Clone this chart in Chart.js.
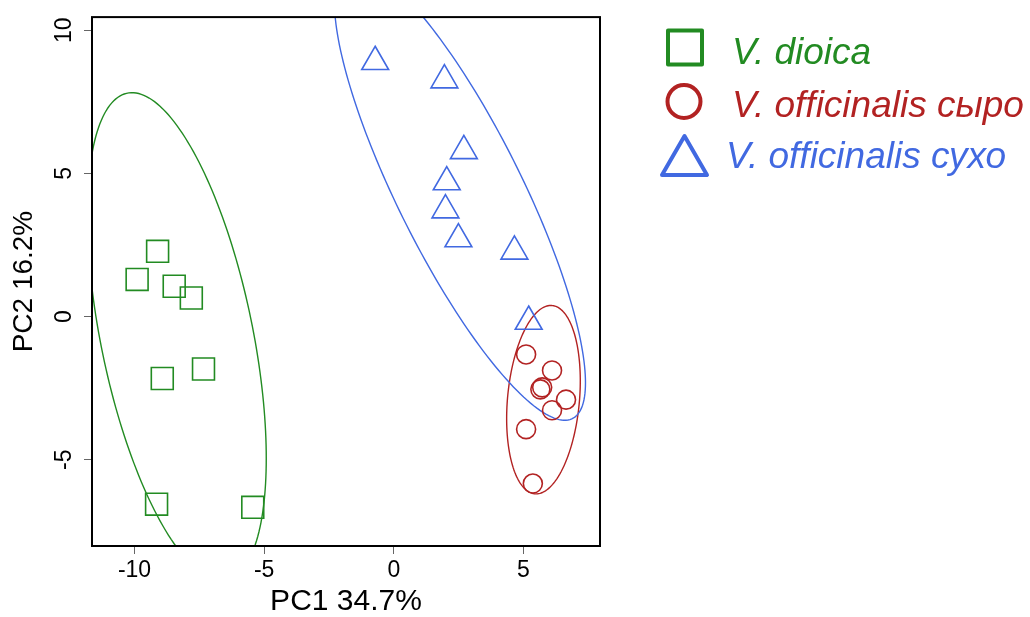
<!DOCTYPE html>
<html>
<head>
<meta charset="utf-8">
<script src="https://cdn.jsdelivr.net/npm/chart.js@4/dist/chart.umd.min.js"></script>
<style>
    html, body { margin: 0; padding: 0; background: #fff; }
    #grafico { display: block; }
</style>
</head>
<body>
<canvas id="grafico" width="1030" height="617"></canvas>
<script>
// Datos PCA
const dioicaX = [-9.11, -9.90, -8.47, -7.81, -8.93, -7.34, -9.15, -5.44];
const dioicaY = [2.28, 1.30, 1.06, 0.65, -2.16, -1.83, -6.55, -6.66];

const syroX = [5.10, 6.10, 5.65, 5.72, 6.64, 6.10, 5.10, 5.36];
const syroY = [-1.32, -1.88, -2.54, -2.47, -2.90, -3.27, -3.93, -5.83];

const sukhoX = [-0.72, 1.95, 2.70, 2.04, 1.99, 2.49, 4.65, 5.20];
const sukhoY = [8.90, 8.26, 5.79, 4.70, 3.72, 2.71, 2.28, -0.17];

const grupos = ["V. dioica", "V. officinalis сыро", "V. officinalis сухо"];

// Elipses de cada grupo: centro, semiancho en X, semialto en Y, correlación
const elipseCX = [-8.37, 5.77, 2.55];
const elipseCY = [-0.69, -2.90, 4.33];
const elipseW = [3.45, 1.42, 4.84];
const elipseH = [8.51, 3.29, 7.95];
const elipseRho = [-0.5, 0.2, -0.835];

const xTicks = [-10, -5, 0, 5];
const yTicks = [-5, 0, 5, 10];

const colores = ["#228B22", "#B22222", "#4169E1"];
const fuente = "'Liberation Sans', Arial, sans-serif";

function puntos(xs, ys) {
    return xs.map((x, i) => ({ x: x, y: ys[i] }));
}

// Dibuja las elipses usando las escalas del gráfico
const pluginElipses = {
    id: "elipses",
    beforeDatasetsDraw(chart) {
        const ctx = chart.ctx;
        const area = chart.chartArea;
        const sx = chart.scales.x;
        const sy = chart.scales.y;
        ctx.save();
        ctx.beginPath();
        ctx.rect(area.left, area.top, area.right - area.left, area.bottom - area.top);
        ctx.clip();
        for (let i = 0; i < elipseCX.length; i++) {
            const r = elipseRho[i];
            const q = Math.sqrt(1 - r * r);
            ctx.beginPath();
            for (let k = 0; k <= 200; k++) {
                const t = (k / 200) * Math.PI * 2;
                const x = elipseCX[i] + elipseW[i] * Math.cos(t);
                const y = elipseCY[i] + elipseH[i] * (r * Math.cos(t) + q * Math.sin(t));
                const px = sx.getPixelForValue(x);
                const py = sy.getPixelForValue(y);
                if (k === 0) ctx.moveTo(px, py); else ctx.lineTo(px, py);
            }
            ctx.strokeStyle = colores[i];
            ctx.lineWidth = 1.4;
            ctx.stroke();
        }
        ctx.restore();
    },
    afterDatasetsDraw(chart) {
        // marco negro alrededor del área
        const ctx = chart.ctx;
        const a = chart.chartArea;
        ctx.save();
        ctx.strokeStyle = "#000";
        ctx.lineWidth = 2;
        ctx.strokeRect(a.left, a.top, a.right - a.left, a.bottom - a.top);
        ctx.restore();
    },
    afterDraw(chart) {
        // leyenda a la derecha
        const ctx = chart.ctx;
        ctx.save();
        ctx.lineWidth = 4;
        ctx.lineJoin = "round";

        ctx.strokeStyle = colores[0];
        ctx.strokeRect(668, 30.5, 34, 34);

        ctx.strokeStyle = colores[1];
        ctx.beginPath();
        ctx.arc(684, 101.5, 16.5, 0, Math.PI * 2);
        ctx.stroke();

        ctx.strokeStyle = colores[2];
        ctx.beginPath();
        ctx.moveTo(684.5, 136);
        ctx.lineTo(707, 175);
        ctx.lineTo(662, 175);
        ctx.closePath();
        ctx.stroke();

        ctx.font = "italic 37px " + fuente;
        ctx.textBaseline = "alphabetic";
        ctx.textAlign = "left";
        const posX = [732, 732, 726];
        const posY = [64, 116.5, 168];
        grupos.forEach((g, i) => {
            ctx.fillStyle = colores[i];
            ctx.fillText(g, posX[i], posY[i]);
        });
        ctx.restore();
    }
};

const ctx = document.getElementById("grafico").getContext("2d");

let chart = new Chart(ctx, {
    type: "scatter",
    data: {
        datasets: [
            {
                label: grupos[0],
                data: puntos(dioicaX, dioicaY),
                pointStyle: "rect",
                pointRadius: 15.5,
                borderColor: colores[0],
                backgroundColor: "rgba(0,0,0,0)",
                borderWidth: 1.6
            },
            {
                label: grupos[1],
                data: puntos(syroX, syroY),
                pointStyle: "circle",
                pointRadius: 9.5,
                borderColor: colores[1],
                backgroundColor: "rgba(0,0,0,0)",
                borderWidth: 1.6
            },
            {
                label: grupos[2],
                data: puntos(sukhoX, sukhoY),
                pointStyle: "triangle",
                pointRadius: 15.5,
                borderColor: colores[2],
                backgroundColor: "rgba(0,0,0,0)",
                borderWidth: 1.6
            }
        ]
    },
    options: {
        responsive: false,
        animation: false,
        events: [],
        devicePixelRatio: 1,
        layout: {
            padding: { left: 0, top: 16, right: 430, bottom: 0 }
        },
        plugins: {
            legend: { display: false },
            tooltip: { enabled: false }
        },
        scales: {
            x: {
                type: "linear",
                min: -11.64,
                max: 7.95,
                afterBuildTicks: s => { s.ticks = xTicks.map(v => ({ value: v })); },
                afterFit: s => { s.height = 71; s.paddingLeft = 0; s.paddingRight = 0; },
                border: { display: false },
                grid: { drawOnChartArea: false, drawTicks: true, tickLength: 8, color: "#666" },
                ticks: {
                    color: "#000",
                    padding: 3,
                    maxRotation: 0,
                    font: { family: fuente, size: 23 }
                },
                title: {
                    display: true,
                    text: "PC1 34.7%",
                    color: "#000",
                    font: { family: fuente, size: 30, lineHeight: 1 },
                    padding: { top: 0, bottom: 0 }
                }
            },
            y: {
                type: "linear",
                min: -8.01,
                max: 10.46,
                afterBuildTicks: s => { s.ticks = yTicks.map(v => ({ value: v })); },
                afterFit: s => { s.width = 92; s.paddingTop = 0; s.paddingBottom = 0; },
                border: { display: false },
                grid: { drawOnChartArea: false, drawTicks: true, tickLength: 8, color: "#666" },
                ticks: {
                    color: "#000",
                    padding: 6.5,
                    minRotation: 90,
                    maxRotation: 90,
                    crossAlign: "center",
                    font: { family: fuente, size: 23 }
                },
                title: {
                    display: true,
                    text: "PC2 16.2%",
                    color: "#000",
                    font: { family: fuente, size: 28, lineHeight: 1 },
                    padding: { top: 10, bottom: 0 }
                }
            }
        }
    },
    plugins: [pluginElipses]
});
</script>
</body>
</html>
